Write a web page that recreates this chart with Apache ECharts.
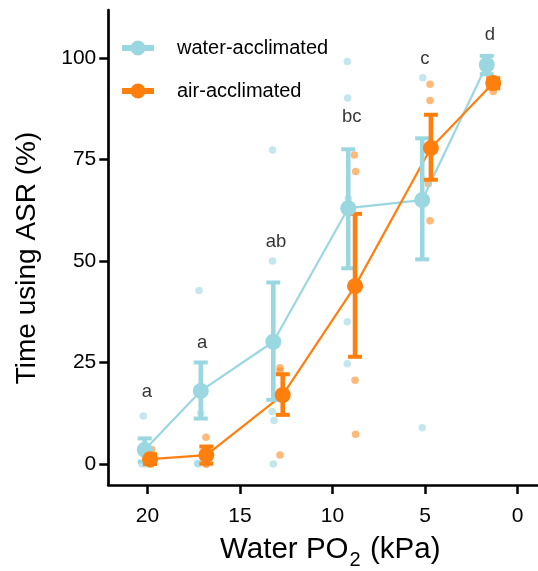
<!DOCTYPE html>
<html>
<head>
<meta charset="utf-8">
<script src="https://cdn.jsdelivr.net/npm/echarts@6/dist/echarts.min.js"></script>
<style>
  html, body { margin: 0; padding: 0; background: #fff; }
  #chart { width: 538px; height: 571px; }
</style>
</head>
<body>
<div id="chart"></div>
<script>
const FONT = 'Liberation Sans, Arial, sans-serif';
const BLUE = '#9BD7E1';
const ORANGE = '#FF7F0E';

// axis ticks
const xTicks = [0, 5, 10, 15, 20];
const yTicks = [0, 25, 50, 75, 100];

// group means (+ error bars), x is water PO2 (dodged)
const waterX = [20.15, 17.12, 13.2, 9.15, 5.15, 1.66];
const waterMean = [3.5, 18.0, 30.1, 63.0, 65.0, 98.3];
const waterLo = [0.6, 11.2, 15.8, 48.2, 50.4, 96.0];
const waterHi = [6.3, 25.0, 44.7, 77.5, 80.2, 100.5];

const airX = [19.86, 16.82, 12.69, 8.78, 4.68, 1.31];
const airMean = [1.2, 2.2, 17.0, 43.8, 77.8, 93.8];
const airLo = [0.0, 0.1, 12.1, 26.4, 70.0, 92.5];
const airHi = [2.4, 4.3, 22.1, 61.6, 86.0, 95.0];

// individual fish
const waterRawX = [20.23, 20.3, 20.1, 17.22, 17.12, 17.25, 17.3, 13.24, 13.24, 13.26, 13.16, 13.2, 9.2, 9.18, 9.2, 9.2, 9.15, 5.12, 5.15, 1.7, 1.6];
const waterRawY = [11.8, 0, 0, 42.7, 12.5, 0, 0.2, 77.3, 50.0, 12.9, 10.7, 0, 99.1, 90.1, 35.0, 24.7, 65.4, 95.1, 8.9, 100, 97];
const airRawX = [19.77, 19.9, 19.8, 16.84, 16.8, 16.85, 12.84, 12.84, 12.84, 8.82, 8.75, 8.78, 8.75, 4.73, 4.73, 4.73, 4.82, 1.31, 1.25];
const airRawY = [3.6, 0, 0, 6.6, 0, 0, 23.7, 22.9, 2.2, 76.1, 72.0, 20.6, 7.3, 93.5, 89.5, 59.9, 69.0, 91.7, 93];

// significance letters
const letterX = [20.04, 17.04, 13.05, 8.96, 5.0, 1.49];
const letterY = [17.8, 29.8, 54.7, 85.5, 99.7, 105.6];
const letterText = ['a', 'a', 'ab', 'bc', 'c', 'd'];

const zip = (a, b) => a.map((v, i) => [v, b[i]]);
const zip3 = (a, b, c) => a.map((v, i) => [v, b[i], c[i]]);

function errorBar(color) {
  return function (params, api) {
    const x = api.value(0);
    const lo = api.coord([x, api.value(1)]);
    const hi = api.coord([x, api.value(2)]);
    const half = 7;
    return {
      type: 'group',
      children: [
        { type: 'line', shape: { x1: lo[0], y1: lo[1], x2: hi[0], y2: hi[1] }, style: { stroke: color, lineWidth: 4.6 } },
        { type: 'line', shape: { x1: hi[0] - half, y1: hi[1], x2: hi[0] + half, y2: hi[1] }, style: { stroke: color, lineWidth: 4 } },
        { type: 'line', shape: { x1: lo[0] - half, y1: lo[1], x2: lo[0] + half, y2: lo[1] }, style: { stroke: color, lineWidth: 4 } }
      ]
    };
  };
}

const legendIcon = 'path://M0,4.5L32,4.5L32,10.5L0,10.5Z M8.5,7.5A7.5,7.5,0,1,1,23.5,7.5A7.5,7.5,0,1,1,8.5,7.5Z';
const titleStyle = { fontSize: 29.5, fontFamily: FONT, fill: '#000', verticalAlign: 'middle' };

const chart = echarts.init(document.getElementById('chart'));
chart.setOption({
  animation: false,
  backgroundColor: '#fff',
  textStyle: { fontFamily: FONT },
  grid: { left: 108.3, right: 0, top: 10, bottom: 86, containLabel: false, outerBoundsMode: 'none' },
  legend: {
    orient: 'vertical',
    left: 122,
    top: 38,
    padding: 0,
    itemWidth: 32,
    itemHeight: 15,
    itemGap: 23,
    selectedMode: false,
    textStyle: { fontSize: 20, color: '#000', fontFamily: FONT, lineHeight: 20, padding: [0, 0, 0, 18] },
    data: [
      { name: 'water-acclimated', icon: legendIcon, itemStyle: { color: BLUE, opacity: 1 } },
      { name: 'air-acclimated', icon: legendIcon, itemStyle: { color: ORANGE, opacity: 1 } }
    ]
  },
  xAxis: {
    type: 'value',
    inverse: true,
    min: -1.11,
    max: 22.12,
    splitLine: { show: false },
    axisLine: { onZero: false, lineStyle: { color: '#000', width: 2.7 } },
    axisTick: { customValues: xTicks, length: 9, lineStyle: { color: '#000', width: 2.5 } },
    axisLabel: { customValues: xTicks, margin: 21, fontSize: 21, color: '#000', fontFamily: FONT }
  },
  yAxis: {
    type: 'value',
    min: -5.17,
    max: 111.8,
    splitLine: { show: false },
    axisLine: { onZero: false, lineStyle: { color: '#000', width: 2.7 } },
    axisTick: { customValues: yTicks, length: 9, lineStyle: { color: '#000', width: 2.5 } },
    axisLabel: { customValues: yTicks, margin: 12, fontSize: 21, color: '#000', fontFamily: FONT }
  },
  graphic: [
    { type: 'text', x: 348.5, y: 549.5, style: Object.assign({ text: 'Water PO', align: 'right' }, titleStyle) },
    { type: 'text', x: 349.5, y: 560.5, style: { text: '2', fontSize: 20, fontFamily: FONT, fill: '#000', align: 'left', verticalAlign: 'middle' } },
    { type: 'text', x: 370, y: 549.5, style: Object.assign({ text: '(kPa)', align: 'left' }, titleStyle) },
    {
      type: 'text', x: 27, y: 258, rotation: Math.PI / 2,
      style: { text: 'Time using ASR (%)', fontSize: 28, fontFamily: FONT, fill: '#000', align: 'center', verticalAlign: 'middle' }
    }
  ],
  series: [
    { name: 'water-acclimated', type: 'scatter', data: zip(waterRawX, waterRawY), symbolSize: 7.5, itemStyle: { color: BLUE, opacity: 0.6 }, z: 1 },
    { name: 'air-acclimated', type: 'scatter', data: zip(airRawX, airRawY), symbolSize: 7.5, itemStyle: { color: ORANGE, opacity: 0.55 }, z: 1 },
    { name: 'water-acclimated', type: 'line', data: zip(waterX, waterMean), symbol: 'none', lineStyle: { color: BLUE, width: 2.2 }, z: 2 },
    { name: 'air-acclimated', type: 'line', data: zip(airX, airMean), symbol: 'none', lineStyle: { color: ORANGE, width: 2.2 }, z: 2 },
    { name: 'water-acclimated', type: 'custom', renderItem: errorBar(BLUE), data: zip3(waterX, waterLo, waterHi), encode: { x: 0, y: [1, 2] }, z: 3 },
    { name: 'air-acclimated', type: 'custom', renderItem: errorBar(ORANGE), data: zip3(airX, airLo, airHi), encode: { x: 0, y: [1, 2] }, z: 3 },
    { name: 'water-acclimated', type: 'scatter', data: zip(waterX, waterMean), symbolSize: 16, itemStyle: { color: BLUE, opacity: 1 }, z: 4 },
    { name: 'air-acclimated', type: 'scatter', data: zip(airX, airMean), symbolSize: 16, itemStyle: { color: ORANGE, opacity: 1 }, z: 4 },
    {
      name: 'letters', type: 'scatter', data: letterX.map((x, i) => ({ value: [x, letterY[i]], name: letterText[i] })),
      symbolSize: 1, itemStyle: { color: 'transparent' }, silent: true, z: 5,
      label: { show: true, position: 'inside', formatter: p => p.name, fontSize: 18.5, color: '#000', fontFamily: FONT }
    }
  ]
});
</script>
</body>
</html>
